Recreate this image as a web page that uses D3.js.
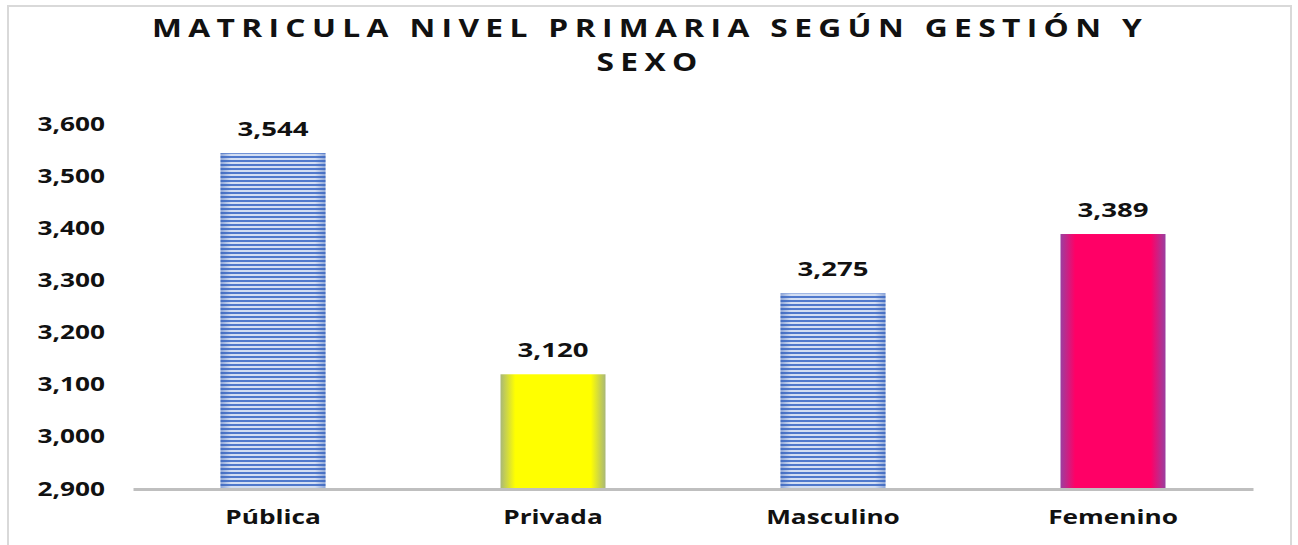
<!DOCTYPE html>
<html>
<head>
<meta charset="utf-8">
<script src="https://cdn.jsdelivr.net/npm/d3@7"></script>
<style>
  body { margin: 0; background: #fff; }
  svg { display: block; }
</style>
</head>
<body>
<svg id="chart" width="1298" height="545"></svg>
<script>
const categories = ["Pública", "Privada", "Masculino", "Femenino"];
const values = [3544, 3120, 3275, 3389];
const yTicks = [2900, 3000, 3100, 3200, 3300, 3400, 3500, 3600];
const titleLines = ["MATRICULA NIVEL PRIMARIA SEGÚN GESTIÓN Y", "SEXO"];
const fills = ["stripe", "yellow", "stripe", "pink"];

const svg = d3.select("#chart");
const font = "'Open Sans', 'DejaVu Sans', sans-serif";
const stretch = 1.38; // text in the original looks stretched sideways

// frame
svg.append("rect")
  .attr("x", 8).attr("y", 6).attr("width", 1283).attr("height", 560)
  .attr("fill", "#fff").attr("stroke", "#d9d9d9").attr("stroke-width", 2);

const defs = svg.append("defs");

// blue striped pattern
const pat = defs.append("pattern")
  .attr("id", "stripe").attr("patternUnits", "userSpaceOnUse")
  .attr("width", 8).attr("height", 4);
pat.append("rect").attr("width", 8).attr("height", 4).attr("fill", "#d3def3");
pat.append("rect").attr("width", 8).attr("height", 2).attr("fill", "#5079cc");

function edgeGrad(id, edge, mid) {
  const g = defs.append("linearGradient").attr("id", id)
    .attr("x1", 0).attr("x2", 1).attr("y1", 0).attr("y2", 0);
  g.append("stop").attr("offset", 0).attr("stop-color", edge);
  g.append("stop").attr("offset", 0.14).attr("stop-color", mid);
  g.append("stop").attr("offset", 0.86).attr("stop-color", mid);
  g.append("stop").attr("offset", 1).attr("stop-color", edge);
}
edgeGrad("yellow", "#a9b878", "#ffff00");
edgeGrad("pink", "#9a3fa0", "#ff0066");

// soft edge overlay for striped bars
const sg = defs.append("linearGradient").attr("id", "stripeEdge")
  .attr("x1", 0).attr("x2", 1).attr("y1", 0).attr("y2", 0);
sg.append("stop").attr("offset", 0).attr("stop-color", "#3b62b5").attr("stop-opacity", 0.45);
sg.append("stop").attr("offset", 0.1).attr("stop-color", "#3b62b5").attr("stop-opacity", 0);
sg.append("stop").attr("offset", 0.9).attr("stop-color", "#3b62b5").attr("stop-opacity", 0);
sg.append("stop").attr("offset", 1).attr("stop-color", "#3b62b5").attr("stop-opacity", 0.45);

const x = d3.scaleBand().domain(categories).range([133, 1253]).paddingInner(0.625).paddingOuter(0.3125);
const y = d3.scaleLinear().domain([2900, 3600]).range([489, 124]);

// title
svg.append("g").selectAll("text").data(titleLines).join("text")
  .attr("transform", (d, i) => `translate(650,${37 + i * 34}) scale(1.27,1)`)
  .attr("text-anchor", "middle")
  .attr("font-family", font).attr("font-weight", "bold")
  .attr("font-size", 25).attr("letter-spacing", 5).attr("fill", "#111")
  .text(d => d);

// y axis labels
const yAxis = svg.append("g")
  .attr("transform", "translate(105,0)")
  .call(d3.axisLeft(y).tickValues(yTicks).tickSize(0).tickPadding(0).tickFormat(d3.format(",")));
yAxis.select(".domain").remove();
yAxis.selectAll("text")
  .attr("transform", `scale(${stretch},1)`)
  .attr("font-family", font).attr("font-weight", "bold")
  .attr("font-size", 19).attr("fill", "#111");

// bars
const bars = svg.append("g").selectAll("g").data(categories).join("g");
bars.append("rect")
  .attr("x", d => x(d))
  .attr("y", (d, i) => y(values[i]))
  .attr("width", x.bandwidth())
  .attr("height", (d, i) => y(2900) - y(values[i]))
  .attr("fill", (d, i) => `url(#${fills[i]})`);
bars.filter((d, i) => fills[i] === "stripe").append("rect")
  .attr("x", d => x(d))
  .attr("y", d => y(values[categories.indexOf(d)]))
  .attr("width", x.bandwidth())
  .attr("height", d => y(2900) - y(values[categories.indexOf(d)]))
  .attr("fill", "url(#stripeEdge)");

// value labels
bars.append("text")
  .attr("transform", (d, i) => `translate(${x(d) + x.bandwidth() / 2},${y(values[i]) - 17}) scale(${stretch},1)`)
  .attr("text-anchor", "middle")
  .attr("font-family", font).attr("font-weight", "bold")
  .attr("font-size", 20).attr("fill", "#111")
  .text((d, i) => d3.format(",")(values[i]));

// x axis
const xAxis = svg.append("g")
  .attr("transform", "translate(0,489)")
  .call(d3.axisBottom(x).tickSize(0).tickPadding(22));
xAxis.select(".domain").attr("stroke", "#bfbfbf").attr("stroke-width", 3);
xAxis.selectAll("text")
  .attr("transform", `scale(${stretch},1)`)
  .attr("font-family", font).attr("font-weight", "bold")
  .attr("font-size", 19).attr("fill", "#111");
</script>
</body>
</html>
